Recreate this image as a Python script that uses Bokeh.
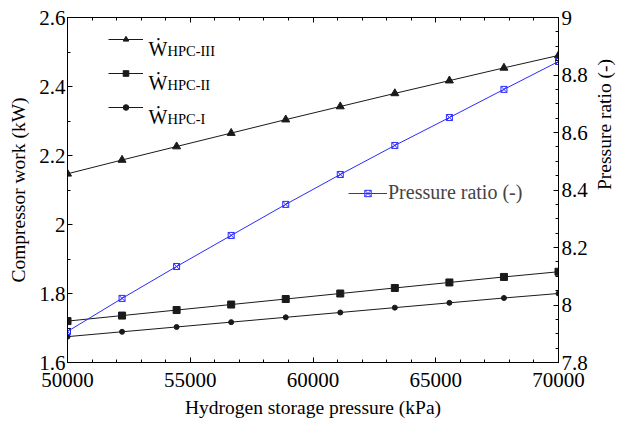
import math
from bokeh.plotting import figure
from bokeh.models import (Range1d, LinearAxis, FixedTicker, CustomJSTickFormatter,
                          Legend, LegendItem, Label)
from bokeh.embed import file_html
from bokeh.resources import INLINE

pressure_kpa = [50000, 52222, 54444, 56667, 58889, 61111, 63333, 65556, 67778, 70000]
w_hpc3 = [2.147, 2.187, 2.226, 2.265, 2.304, 2.342, 2.380, 2.417, 2.454, 2.490]
w_hpc2 = [1.720, 1.736, 1.752, 1.768, 1.784, 1.800, 1.816, 1.832, 1.848, 1.863]
w_hpc1 = [1.675, 1.689, 1.703, 1.717, 1.731, 1.745, 1.759, 1.773, 1.787, 1.800]
pressure_ratio = [7.908, 8.023, 8.134, 8.242, 8.350, 8.454, 8.555, 8.652, 8.750, 8.847]

x_ticks = [50000, 55000, 60000, 65000, 70000]
x_minor = list(range(50000, 70001, 1000))
left_ticks = [1.6, 1.8, 2.0, 2.2, 2.4, 2.6]
left_minor = [1.6 + 0.1 * i for i in range(11)]
right_ticks = [7.8, 8.0, 8.2, 8.4, 8.6, 8.8, 9.0]
right_minor = [7.8 + 0.05 * i for i in range(25)]
legend_subscripts = ["HPC-III", "HPC-II", "HPC-I"]

FONT = "Liberation Serif"
BLACK = "#1a1a1a"
BLUE = "#2a2aff"

p = figure(width=628, height=423, output_backend="svg", toolbar_location=None,
           x_range=Range1d(50000, 70000), y_range=Range1d(1.6, 2.6),
           min_border_left=67, min_border_right=59, min_border_top=17, min_border_bottom=61,
           x_axis_location=None, y_axis_location=None)
p.grid.visible = False
p.outline_line_color = "black"
p.outline_line_width = 1
p.background_fill_color = "white"
p.border_fill_color = "white"
p.extra_y_ranges = {"pr": Range1d(7.8, 9.0)}

fmt1 = CustomJSTickFormatter(code="return tick.toFixed(1).replace(/\\.0$/, '');")
fmt0 = CustomJSTickFormatter(code="return tick.toFixed(0);")
fmt_blank = CustomJSTickFormatter(code="return '';")


def style(ax):
    ax.major_tick_in = 5
    ax.major_tick_out = 0
    ax.minor_tick_in = 3
    ax.minor_tick_out = 0
    ax.axis_line_color = "black"
    ax.major_tick_line_color = "black"
    ax.minor_tick_line_color = "black"
    ax.major_label_text_font = FONT
    ax.major_label_text_font_size = "21px"
    ax.major_label_text_color = "black"
    ax.axis_label_text_font = FONT
    ax.axis_label_text_font_size = "19.5px"
    ax.axis_label_text_font_style = "normal"
    ax.axis_label_text_color = "black"


xb = LinearAxis(ticker=FixedTicker(ticks=x_ticks, minor_ticks=x_minor), formatter=fmt0,
                axis_label="Hydrogen storage pressure (kPa)")
style(xb)
xb.major_label_standoff = 10
xb.axis_label_standoff = 7
p.add_layout(xb, "below")

xt = LinearAxis(ticker=FixedTicker(ticks=x_ticks, minor_ticks=x_minor), formatter=fmt_blank)
style(xt)
xt.major_label_standoff = 0
p.add_layout(xt, "above")

yl = LinearAxis(ticker=FixedTicker(ticks=left_ticks, minor_ticks=left_minor), formatter=fmt1,
                axis_label="Compressor work (kW)")
style(yl)
yl.major_label_standoff = 2
yl.axis_label_standoff = 7
p.add_layout(yl, "left")

yr = LinearAxis(y_range_name="pr", ticker=FixedTicker(ticks=right_ticks, minor_ticks=right_minor),
                formatter=fmt1, axis_label="Pressure ratio (-)")
style(yr)
yr.major_label_standoff = 3
yr.axis_label_standoff = 14
yr.axis_label_orientation = math.pi / 2
yr.axis_label_text_align = "center"
p.add_layout(yr, "right")

l3 = p.line(pressure_kpa, w_hpc3, line_color=BLACK, line_width=1)
s3 = p.scatter(pressure_kpa, w_hpc3, marker="triangle", size=8, color=BLACK)
l2 = p.line(pressure_kpa, w_hpc2, line_color=BLACK, line_width=1)
s2 = p.scatter(pressure_kpa, w_hpc2, marker="square", size=7, color=BLACK)
l1 = p.line(pressure_kpa, w_hpc1, line_color=BLACK, line_width=1)
s1 = p.scatter(pressure_kpa, w_hpc1, marker="circle", size=5, color=BLACK)
lp = p.line(pressure_kpa, pressure_ratio, line_color=BLUE, line_width=1, y_range_name="pr")
sp = p.scatter(pressure_kpa, pressure_ratio, marker="square_x", size=6, line_color=BLUE,
               fill_color=None, line_width=1, y_range_name="pr")

leg_w = Legend(items=[LegendItem(label=" ", renderers=[l3, s3]),
                      LegendItem(label=" ", renderers=[l2, s2]),
                      LegendItem(label=" ", renderers=[l1, s1])],
               location=(41, 248), orientation="vertical",
               glyph_width=35, glyph_height=14, label_height=14, spacing=20,
               padding=0, margin=0, border_line_color=None, background_fill_color=None,
               label_text_font_size="4px", label_standoff=0)
p.add_layout(leg_w, "center")

leg_p = Legend(items=[LegendItem(label="Pressure ratio (-)", renderers=[lp, sp])],
               location=(281, 158), glyph_width=39, glyph_height=16, label_height=20,
               padding=0, margin=0, border_line_color=None, background_fill_color=None,
               label_text_font=FONT, label_text_font_size="20px", label_standoff=1)
p.add_layout(leg_p, "center")

for i, sub in enumerate(legend_subscripts):
    base = 345 - 31 - 34 * i
    p.add_layout(Label(x=81, y=base, x_units="screen", y_units="screen", text="\u1E86",
                       text_font=FONT, text_font_size="20px", text_baseline="alphabetic",
                       text_color="black"))
    p.add_layout(Label(x=100, y=base - 2, x_units="screen", y_units="screen", text=sub,
                       text_font=FONT, text_font_size="14.5px", text_baseline="alphabetic",
                       text_color="black"))

open("out.html", "w").write(file_html(p, INLINE))
